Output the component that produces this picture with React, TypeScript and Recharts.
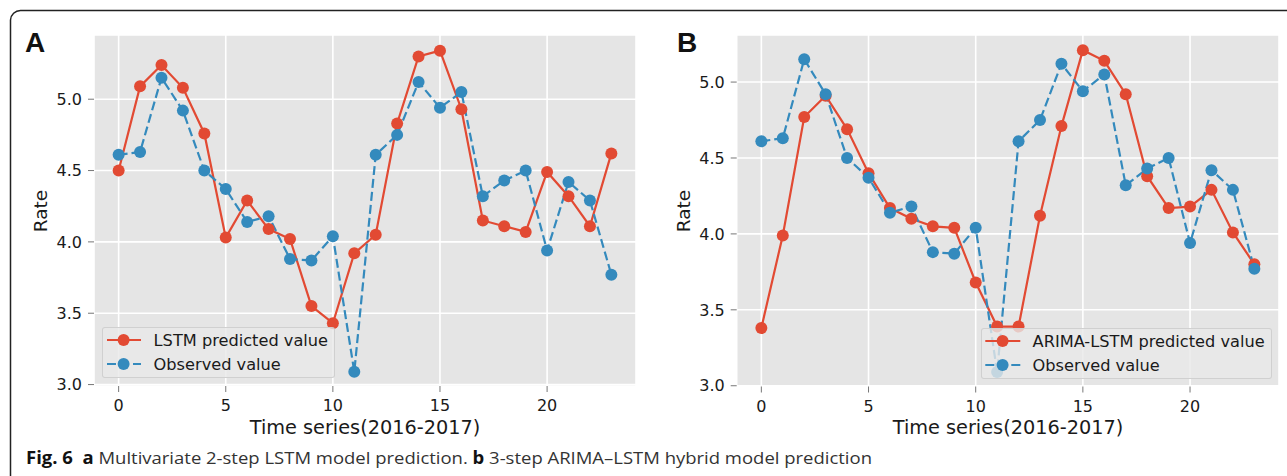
import React from 'react';
import { LineChart, Line, XAxis, YAxis, CartesianGrid } from 'recharts';

const timeIndex = [0, 1, 2, 3, 4, 5, 6, 7, 8, 9, 10, 11, 12, 13, 14, 15, 16, 17, 18, 19, 20, 21, 22, 23];
const lstmPredicted = [4.50, 5.09, 5.24, 5.08, 4.76, 4.03, 4.29, 4.09, 4.02, 3.55, 3.43, 3.92, 4.05, 4.83, 5.30, 5.34, 4.93, 4.15, 4.11, 4.07, 4.49, 4.32, 4.11, 4.62];
const observed = [4.61, 4.63, 5.15, 4.92, 4.50, 4.37, 4.14, 4.18, 3.88, 3.87, 4.04, 3.09, 4.61, 4.75, 5.12, 4.94, 5.05, 4.32, 4.43, 4.50, 3.94, 4.42, 4.29, 3.77];
const arimaLstmPredicted = [3.38, 3.99, 4.77, 4.91, 4.69, 4.40, 4.17, 4.10, 4.05, 4.04, 3.68, 3.39, 3.39, 4.12, 4.71, 5.21, 5.14, 4.92, 4.38, 4.17, 4.18, 4.29, 4.01, 3.80];

const xTicks = [0, 5, 10, 15, 20];
const yTicks = [3.0, 3.5, 4.0, 4.5, 5.0];

const RED = '#E24A33';
const BLUE = '#348ABD';
const FONT = '"DejaVu Sans", sans-serif';

const dataA = timeIndex.map((t, i) => ({ t, pred: lstmPredicted[i], obs: observed[i] }));
const dataB = timeIndex.map((t, i) => ({ t, pred: arimaLstmPredicted[i], obs: observed[i] }));

const tickStyle = { fill: '#1a1a1a', fontSize: 16, fontFamily: FONT };

function Panel({ data, left, width, yDomain, marginLeft, marginRight, marginBottom }: any) {
  return (
    <div style={{ position: 'absolute', left, top: 0, width, height: 476 }}>
      <LineChart
        width={width}
        height={476}
        data={data}
        margin={{ top: 35, right: marginRight, bottom: marginBottom, left: marginLeft }}
      >
        <CartesianGrid fill="#E5E5E5" fillOpacity={1} stroke="#FFFFFF" strokeWidth={1.6} />
        <XAxis
          dataKey="t"
          type="number"
          domain={[-1.15, 24.15]}
          ticks={xTicks}
          allowDataOverflow
          axisLine={false}
          tickLine={{ stroke: '#777' }}
          tickSize={6}
          tickMargin={8}
          height={30}
          tick={tickStyle}
        />
        <YAxis
          type="number"
          domain={yDomain}
          ticks={yTicks}
          allowDataOverflow
          axisLine={false}
          tickLine={{ stroke: '#777' }}
          tickSize={6}
          tickMargin={6}
          width={60}
          tick={tickStyle}
          tickFormatter={(v: number) => v.toFixed(1)}
        />
        <Line
          type="linear"
          dataKey="pred"
          stroke={RED}
          strokeWidth={2.2}
          dot={{ r: 6, fill: RED, stroke: RED, strokeWidth: 0 }}
          activeDot={false}
          isAnimationActive={false}
        />
        <Line
          type="linear"
          dataKey="obs"
          stroke={BLUE}
          strokeWidth={2.2}
          strokeDasharray="9 4"
          dot={{ r: 6, fill: BLUE, stroke: BLUE, strokeWidth: 0, strokeDasharray: '' }}
          activeDot={false}
          isAnimationActive={false}
        />
      </LineChart>
    </div>
  );
}

function LegendBox({ left, top, width, label, textLeft, lineX1, lineX2, markerX }: any) {
  const rows = [
    { name: label, color: RED, dash: undefined, y: 13 },
    { name: 'Observed value', color: BLUE, dash: '9 4', y: 37 },
  ];
  return (
    <div
      style={{
        position: 'absolute',
        left,
        top,
        width,
        height: 51,
        boxSizing: 'border-box',
        background: 'rgba(232,232,232,0.8)',
        border: '1px solid rgba(205,205,205,0.9)',
        borderRadius: 3,
      }}
    >
      <svg width={width} height={51} style={{ position: 'absolute', left: -1, top: -1 }}>
        {rows.map((r) => (
          <g key={r.name}>
            <line
              x1={lineX1 - left}
              x2={lineX2 - left}
              y1={r.y}
              y2={r.y}
              stroke={r.color}
              strokeWidth={2.2}
              strokeDasharray={r.dash}
            />
            <circle cx={markerX - left} cy={r.y} r={6} fill={r.color} />
            <text
              x={textLeft - left}
              y={r.y}
              dy="0.36em"
              fontFamily={FONT}
              fontSize={16.2}
              fill="#1a1a1a"
            >
              {r.name}
            </text>
          </g>
        ))}
      </svg>
    </div>
  );
}

export default function App() {
  return (
    <div style={{ position: 'absolute', left: 0, top: 0, width: 1287, height: 476, background: '#fff', overflow: 'hidden' }}>
      <Panel data={dataA} left={0} width={650} yDomain={[2.99, 5.45]} marginLeft={34} marginRight={14} marginBottom={60} />
      <Panel data={dataB} left={650} width={637} yDomain={[2.995, 5.31]} marginLeft={26.7} marginRight={8} marginBottom={59.5} />

      <LegendBox left={101.7} top={327.3} width={233.3} label="LSTM predicted value" textLeft={153.3} lineX1={106.7} lineX2={140.7} markerX={123.3} />
      <LegendBox left={980.7} top={327.7} width={291} label="ARIMA-LSTM predicted value" textLeft={1032.3} lineX1={985} lineX2={1020} markerX={1002.3} />

      <svg width={1287} height={476} style={{ position: 'absolute', left: 0, top: 0, pointerEvents: 'none' }}>
        <path d="M 10.5 476 L 10.5 20 A 10 10 0 0 1 20.5 10.5 L 1287 10.5" fill="none" stroke="#222" strokeWidth={1.5} />
        <text x={25} y={52} fontFamily='"Liberation Sans", Arial, sans-serif' fontWeight="bold" fontSize={28} fill="#111">A</text>
        <text x={677} y={52} fontFamily='"Liberation Sans", Arial, sans-serif' fontWeight="bold" fontSize={28} fill="#111">B</text>
        <text transform="translate(46.5,211) rotate(-90)" textAnchor="middle" fontFamily={FONT} fontSize={18.5} fill="#1a1a1a">Rate</text>
        <text transform="translate(690,211) rotate(-90)" textAnchor="middle" fontFamily={FONT} fontSize={18.5} fill="#1a1a1a">Rate</text>
        <text x={365} y={434} textAnchor="middle" fontFamily={FONT} fontSize={19.3} fill="#1a1a1a">Time series(2016-2017)</text>
        <text x={1008} y={434} textAnchor="middle" fontFamily={FONT} fontSize={19.3} fill="#1a1a1a">Time series(2016-2017)</text>
        <text
          x={26}
          y={464}
          fontFamily='"Open Sans", "Noto Sans", sans-serif'
          fontSize={17}
          fill="#333"
          textLength={846}
          lengthAdjust="spacingAndGlyphs"
        >
          <tspan fontWeight="bold" fill="#111">Fig. 6</tspan>
          <tspan>{'\u00a0\u00a0'}</tspan>
          <tspan fontWeight="bold" fill="#111">a</tspan>
          <tspan> Multivariate 2-step LSTM model prediction. </tspan>
          <tspan fontWeight="bold" fill="#111">b</tspan>
          <tspan> 3-step ARIMA–LSTM hybrid model prediction</tspan>
        </text>
      </svg>
    </div>
  );
}
